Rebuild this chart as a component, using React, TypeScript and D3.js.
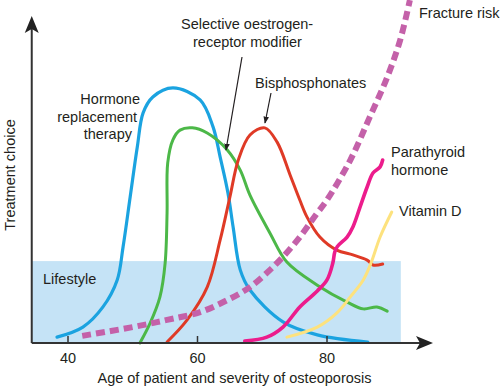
import React from 'react';
import * as d3 from 'd3';

// values: [age, treatment level]
const hrt: [number, number][] = [
  [38.3, 1.8], [42.3, 4.9], [45.4, 11.1], [47.6, 19.4], [48.5, 29.5], [49.6, 44.9],
  [50.7, 60.3], [51.6, 70.8], [53.1, 75.7], [56.2, 78.5], [60.4, 74.8], [62.4, 66.5],
  [63.5, 57.2], [64.7, 46.2], [65.5, 35.7], [66.6, 22.5], [68.1, 16.3], [73.2, 6.5],
  [78.5, 2.5], [86.3, 0.3],
];
const serm: [number, number][] = [
  [51.1, 0], [52.7, 6.2], [54.2, 14.2], [55.0, 24.6], [55.3, 40.0], [55.4, 55.4],
  [56.2, 62.5], [57.3, 65.5], [59.2, 66.2], [61.5, 64.6], [64.6, 59.4], [66.6, 53.2],
  [68.1, 45.5], [71.2, 33.8], [73.8, 24.9], [78.5, 17.8], [83.1, 12.6], [85.6, 10.5],
  [87.7, 11.1], [89.3, 9.8],
];
const bisphos: [number, number][] = [
  [55.3, 0.3], [58.4, 7.1], [61.5, 17.2], [63.5, 31.7], [65.0, 44.9], [66.3, 56.3],
  [68.1, 64.0], [70.4, 66.2], [72.3, 61.8], [74.3, 51.7], [75.8, 44.0], [76.9, 38.8],
  [78.9, 32.6], [81.5, 28.6], [84.0, 27.1], [86.2, 25.5], [87.1, 24.0], [88.6, 24.3],
];
const fracture: [number, number][] = [
  [42.2, 2.2], [50.0, 4.9], [55.3, 7.1], [60.4, 9.5], [64.6, 13.2], [68.1, 17.2],
  [71.2, 22.5], [73.2, 26.5], [75.8, 32.6], [78.5, 40.0], [80.0, 44.0], [83.6, 56.3],
  [86.6, 69.5], [89.3, 81.8], [91.3, 93.2], [92.8, 105.5],
];
const pth: [number, number][] = [
  [67.3, 0.6], [70.7, 1.8], [73.2, 4.9], [75.8, 11.1], [78.5, 16.0], [80.0, 19.4],
  [80.9, 24.6], [81.2, 28.0], [81.6, 29.7], [83.1, 32.6], [84.0, 35.7], [85.1, 41.8],
  [86.2, 48.0], [87.1, 52.3], [88.2, 54.2], [88.6, 56.3],
];
const vitaminD: [number, number][] = [
  [73.8, 1.8], [78.5, 4.9], [81.5, 9.2], [83.6, 14.2], [85.6, 19.4], [86.8, 24.6],
  [88.2, 32.6], [90.0, 40.3],
];
const xTicks = [40, 60, 80];
const lifestyleEnd = 91.4;
const lifestyleLevel = 25.2;

const x = d3.scaleLinear().domain([40, 80]).range([68, 327]);
const y = d3.scaleLinear().domain([0, 100]).range([343, 18]);

const line = d3.line<[number, number]>()
  .x(d => x(d[0]))
  .y(d => y(d[1]))
  .curve(d3.curveCatmullRom.alpha(0.5));

const txt = '#231f20';
const font = '"Liberation Sans", Arial, sans-serif';

export default function App() {
  const x0 = x(34.4);
  const y0 = y(0);
  return (
    <svg width={500} height={387} style={{ position: 'absolute', left: 0, top: 0, background: '#fff' }}
      fontFamily={font} fontSize={14.5} fill={txt}>
      <defs>
        <marker id="ah" viewBox="0 0 10 10" refX="9" refY="5" markerWidth="7" markerHeight="9" orient="auto" markerUnits="userSpaceOnUse">
          <path d="M0,1 L10,5 L0,9 Z" fill={txt} />
        </marker>
      </defs>
      <rect x={x0} y={y(lifestyleLevel)} width={x(lifestyleEnd) - x0} height={y0 - y(lifestyleLevel)} fill="#c5e3f6" />

      <path d={line(hrt) || ''} fill="none" stroke="#1ba3e0" strokeWidth={3.2} strokeLinecap="round" />
      <path d={line(serm) || ''} fill="none" stroke="#4cb848" strokeWidth={3} strokeLinecap="round" />
      <path d={line(bisphos) || ''} fill="none" stroke="#df3a26" strokeWidth={3} strokeLinecap="round" />
      <path d={line(vitaminD) || ''} fill="none" stroke="#fde27e" strokeWidth={3} strokeLinecap="round" />
      <path d={line(pth) || ''} fill="none" stroke="#ec1c8c" strokeWidth={3.6} strokeLinecap="round" />
      <path d={line(fracture) || ''} fill="none" stroke="#c461a9" strokeWidth={6} strokeDasharray="9,5" />

      {/* axes */}
      <line x1={x0} y1={y0} x2={424} y2={y0} stroke="#333" strokeWidth={2} />
      <path d={`M433,${y0} L416,${y0 - 7} L420,${y0} L416,${y0 + 7} Z`} fill="#222" />
      <line x1={x0} y1={y0} x2={x0} y2={26} stroke="#333" strokeWidth={2} />
      <path d={`M${x0},16 L${x0 - 7},33 L${x0},29 L${x0 + 7},33 Z`} fill="#222" />
      {xTicks.map(t => (
        <g key={t}>
          <line x1={x(t)} x2={x(t)} y1={y0} y2={y0 - 7} stroke="#333" strokeWidth={1.5} />
          <text x={x(t)} y={363} textAnchor="middle">{t}</text>
        </g>
      ))}
      <text x={234.5} y={383} textAnchor="middle">Age of patient and severity of osteoporosis</text>
      <text transform="translate(15,175) rotate(-90)" textAnchor="middle">Treatment choice</text>

      {/* labels */}
      <text x={43} y={284}>Lifestyle</text>
      <text x={140} y={104} textAnchor="end">Hormone</text>
      <text x={137} y={122} textAnchor="end">replacement</text>
      <text x={132} y={139} textAnchor="end">therapy</text>
      <text x={181} y={29}>Selective oestrogen-</text>
      <text x={193} y={47}>receptor modifier</text>
      <line x1={242} y1={57} x2={226} y2={150} stroke={txt} strokeWidth={1.2} markerEnd="url(#ah)" />
      <text x={255} y={88}>Bisphosphonates</text>
      <line x1={271} y1={93} x2={265} y2={123} stroke={txt} strokeWidth={1.2} markerEnd="url(#ah)" />
      <text x={419} y={18}>Fracture risk</text>
      <text x={391} y={157}>Parathyroid</text>
      <text x={391} y={175}>hormone</text>
      <text x={399} y={216}>Vitamin D</text>
    </svg>
  );
}
